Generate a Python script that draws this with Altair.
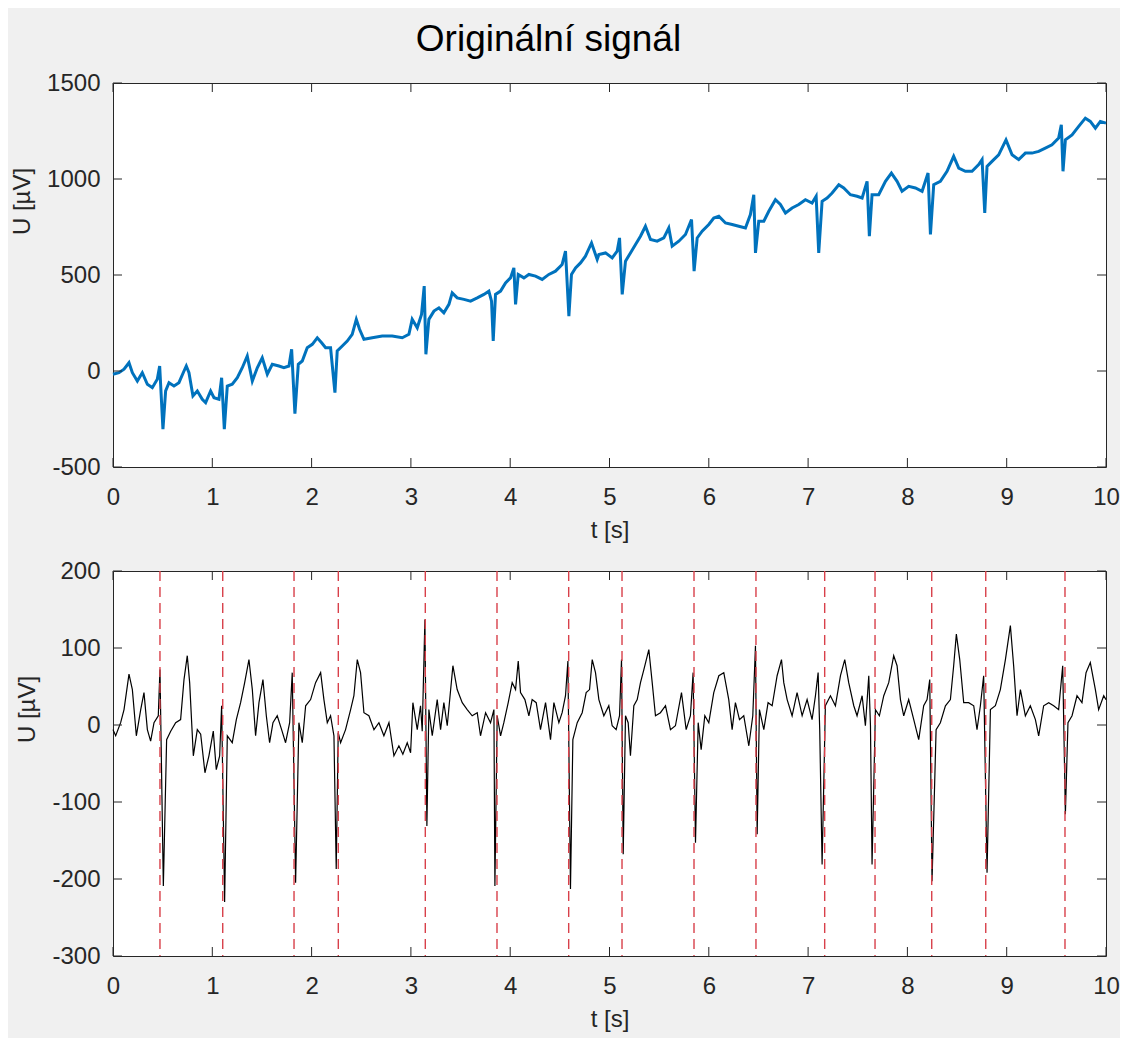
import altair as alt
import pandas as pd

# ---------------- data ----------------
# top panel: original signal (time [s], voltage [uV])
top_t = [0.000, 0.060, 0.111, 0.161, 0.195, 0.245, 0.295, 0.346, 0.396, 0.446,
         0.470, 0.503, 0.530, 0.564, 0.614, 0.664, 0.715, 0.738, 0.765, 0.805,
         0.849, 0.899, 0.933, 0.983, 1.017, 1.067, 1.094, 1.121, 1.151, 1.201,
         1.252, 1.302, 1.352, 1.403, 1.453, 1.503, 1.554, 1.604, 1.671, 1.721,
         1.772, 1.799, 1.832, 1.866, 1.906, 1.956, 2.007, 2.057, 2.101, 2.141,
         2.191, 2.235, 2.258, 2.309, 2.359, 2.409, 2.450, 2.483, 2.527, 2.611,
         2.711, 2.812, 2.913, 2.980, 3.013, 3.064, 3.107, 3.134, 3.151, 3.181,
         3.232, 3.282, 3.332, 3.383, 3.416, 3.466, 3.534, 3.601, 3.668, 3.735,
         3.785, 3.812, 3.829, 3.852, 3.903, 3.953, 4.003, 4.037, 4.054, 4.081,
         4.138, 4.188, 4.255, 4.322, 4.389, 4.456, 4.523, 4.557, 4.591, 4.617,
         4.658, 4.708, 4.758, 4.819, 4.876, 4.893, 4.960, 5.027, 5.077, 5.101,
         5.128, 5.161, 5.211, 5.262, 5.312, 5.362, 5.413, 5.480, 5.547, 5.597,
         5.631, 5.698, 5.765, 5.826, 5.852, 5.883, 5.933, 6.000, 6.050, 6.101,
         6.168, 6.235, 6.302, 6.369, 6.419, 6.453, 6.470, 6.503, 6.554, 6.604,
         6.671, 6.721, 6.772, 6.839, 6.906, 6.973, 7.040, 7.081, 7.107, 7.141,
         7.191, 7.242, 7.309, 7.359, 7.426, 7.493, 7.544, 7.594, 7.617, 7.644,
         7.711, 7.779, 7.839, 7.896, 7.946, 8.013, 8.081, 8.148, 8.208, 8.232,
         8.265, 8.332, 8.399, 8.466, 8.517, 8.584, 8.651, 8.718, 8.752, 8.779,
         8.802, 8.852, 8.919, 8.993, 9.054, 9.121, 9.188, 9.255, 9.322, 9.389,
         9.456, 9.523, 9.550, 9.567, 9.591, 9.658, 9.725, 9.792, 9.842, 9.893,
         9.943, 10.000]
top_v = [-17, -9, 9, 43, -9, -52, -9, -69, -87, -43,
         26, -303, -104, -61, -78, -61, 0, 26, -9, -130,
         -104, -147, -165, -104, -139, -147, -35, -303, -78, -69,
         -35, 17, 78, -52, 17, 69, -17, 35, 26, 17,
         26, 113, -222, 35, 52, 121, 139, 173, 147, 121,
         121, -113, 104, 130, 156, 191, 269, 217, 165, 173,
         182, 182, 173, 191, 269, 225, 295, 442, 87, 269,
         312, 329, 303, 347, 407, 381, 373, 364, 381, 399,
         416, 364, 156, 399, 416, 459, 485, 537, 347, 503,
         485, 503, 494, 477, 503, 520, 555, 624, 286, 503,
         537, 563, 598, 667, 581, 607, 615, 589, 624, 693,
         399, 572, 615, 659, 702, 754, 685, 676, 693, 745,
         650, 676, 711, 789, 520, 693, 728, 763, 797, 806,
         771, 763, 754, 745, 815, 918, 615, 780, 780, 832,
         892, 867, 823, 849, 867, 892, 875, 910, 615, 884,
         901, 927, 970, 953, 918, 910, 901, 988, 702, 918,
         918, 988, 1031, 988, 936, 962, 953, 936, 1031, 711,
         970, 988, 1040, 1118, 1057, 1040, 1040, 1075, 1101, 823,
         1066, 1092, 1126, 1204, 1126, 1101, 1135, 1135, 1144, 1161,
         1178, 1213, 1282, 1040, 1204, 1230, 1274, 1317, 1300, 1265,
         1300, 1291]

# bottom panel: filtered signal (time [s], voltage [uV])
bot_t = [0.000, 0.027, 0.077, 0.111, 0.161, 0.195, 0.235, 0.279, 0.312, 0.346,
         0.379, 0.413, 0.456, 0.473, 0.507, 0.540, 0.581, 0.631, 0.681, 0.715,
         0.748, 0.772, 0.809, 0.849, 0.883, 0.926, 0.966, 1.010, 1.040, 1.074,
         1.094, 1.124, 1.151, 1.201, 1.242, 1.285, 1.326, 1.369, 1.403, 1.436,
         1.470, 1.510, 1.544, 1.577, 1.611, 1.654, 1.698, 1.738, 1.779, 1.805,
         1.839, 1.872, 1.906, 1.940, 1.990, 2.040, 2.091, 2.124, 2.158, 2.191,
         2.225, 2.248, 2.268, 2.292, 2.342, 2.393, 2.426, 2.460, 2.493, 2.527,
         2.577, 2.628, 2.678, 2.728, 2.779, 2.829, 2.879, 2.919, 2.963, 2.997,
         3.020, 3.064, 3.097, 3.114, 3.141, 3.161, 3.181, 3.215, 3.265, 3.299,
         3.332, 3.366, 3.423, 3.466, 3.517, 3.567, 3.617, 3.668, 3.701, 3.752,
         3.802, 3.836, 3.846, 3.869, 3.903, 3.936, 3.980, 4.020, 4.054, 4.081,
         4.104, 4.148, 4.188, 4.221, 4.262, 4.305, 4.356, 4.406, 4.440, 4.490,
         4.523, 4.557, 4.581, 4.607, 4.631, 4.675, 4.725, 4.765, 4.799, 4.826,
         4.859, 4.893, 4.943, 4.993, 5.027, 5.067, 5.101, 5.121, 5.138, 5.161,
         5.188, 5.211, 5.245, 5.279, 5.312, 5.346, 5.396, 5.430, 5.463, 5.513,
         5.564, 5.614, 5.664, 5.725, 5.772, 5.815, 5.842, 5.866, 5.893, 5.923,
         5.960, 6.000, 6.050, 6.101, 6.151, 6.201, 6.235, 6.268, 6.309, 6.352,
         6.403, 6.443, 6.470, 6.487, 6.510, 6.554, 6.597, 6.638, 6.688, 6.732,
         6.755, 6.789, 6.839, 6.889, 6.940, 6.990, 7.040, 7.074, 7.101, 7.117,
         7.141, 7.174, 7.225, 7.275, 7.326, 7.369, 7.409, 7.460, 7.493, 7.544,
         7.577, 7.611, 7.628, 7.644, 7.678, 7.718, 7.762, 7.812, 7.862, 7.896,
         7.930, 7.963, 8.013, 8.064, 8.114, 8.164, 8.198, 8.225, 8.248, 8.289,
         8.332, 8.383, 8.433, 8.466, 8.493, 8.527, 8.567, 8.617, 8.668, 8.701,
         8.735, 8.768, 8.802, 8.836, 8.886, 8.936, 8.987, 9.037, 9.070, 9.104,
         9.138, 9.188, 9.238, 9.289, 9.322, 9.372, 9.423, 9.473, 9.523, 9.564,
         9.591, 9.617, 9.658, 9.708, 9.758, 9.799, 9.842, 9.893, 9.926, 9.977,
         10.000]
bot_v = [-6, -14, 3, 20, 66, 46, -14, 20, 42, -6,
         -21, 3, 12, 72, -209, -19, -8, 3, 7, 59,
         90, 55, -40, -6, -12, -62, -40, -8, -58, -40,
         25, -230, -14, -23, 7, 29, 55, 85, 46, -14,
         29, 59, 12, -23, 3, 12, -6, -23, 3, 68,
         -205, 3, -23, 25, 33, 55, 68, 33, 3, 12,
         -14, -187, -10, -23, -6, 20, 38, 85, 68, 16,
         12, -6, 3, -14, 3, -40, -27, -38, -23, -36,
         29, -6, 25, -8, 137, -131, 20, -14, 33, -6,
         29, -1, 77, 46, 29, 20, 12, 16, -14, 16,
         3, 20, -209, 12, -14, 3, 29, 55, 46, 83,
         42, 33, 12, 33, 29, -6, 29, -19, 29, 3,
         16, 38, 83, -213, -19, 3, 16, 42, 46, 85,
         68, 33, 12, 25, -1, -6, 12, 85, -168, 12,
         3, -40, 25, 33, 55, 72, 98, 55, 12, 16,
         25, -6, -1, 42, -6, 12, 68, -153, 3, -32,
         12, 3, 42, 64, 68, 33, -6, 29, 7, 12,
         -27, 12, 103, -142, 20, -6, 29, 25, 64, 85,
         55, 33, 12, 42, 12, 33, 7, 38, 68, -6,
         -181, 25, 38, 25, 64, 85, 55, 25, 12, 38,
         -1, 64, -1, -181, 20, 12, 38, 55, 90, 77,
         33, 12, 33, 7, -19, 25, 33, 59, -203, -6,
         3, 25, 33, 77, 118, 85, 29, 29, 25, -6,
         25, 64, -192, 20, 25, 46, 85, 129, 77, 12,
         46, 12, 25, 7, -14, 25, 29, 25, 20, 77,
         -116, 3, 12, 38, 29, 68, 81, 46, 20, 38,
         33]

# detected R-peak positions (red dashed lines) [s]
rpeak_t = [0.473, 1.105, 1.823, 2.269, 3.145, 3.867, 4.589, 5.126,
           5.851, 6.475, 7.167, 7.674, 8.245, 8.789, 9.587]

x_ticks = [0, 1, 2, 3, 4, 5, 6, 7, 8, 9, 10]
top_y_ticks = [-500, 0, 500, 1000, 1500]
bot_y_ticks = [-300, -200, -100, 0, 100, 200]

title_text = "Originální signál"
x_title = "t [s]"
y_title = "U [µV]"

# ---------------- chart ----------------
W = 993
H = 384
FONT = "Liberation Sans"
AX = "#262626"
TL = 9  # inner tick length

df_top = pd.DataFrame({"t": top_t, "u": top_v})
df_bot = pd.DataFrame({"t": bot_t, "u": bot_v})
df_r = pd.DataFrame({"t": rpeak_t})
df_xt = pd.DataFrame({"t": x_ticks})

xscale = alt.Scale(domain=[0, 10], nice=False, zero=False)


def x_axis():
    return alt.Axis(values=x_ticks, title=x_title, labelExpr="datum.value + ''",
                    ticks=False, domain=False, grid=False, labelPadding=18,
                    titlePadding=9, labelFlush=False)


def y_axis(vals, ty):
    return alt.Axis(values=vals, title=y_title, labelExpr="datum.value + ''",
                    ticks=False, domain=False, grid=False, labelPadding=13,
                    titlePadding=12, labelFlush=False, titleY=ty)


def inner_ticks(yvals, yscale, h):
    dfy = pd.DataFrame({"u": yvals})
    xt_b = alt.Chart(df_xt).mark_rule(color=AX, strokeWidth=1).encode(
        x=alt.X("t:Q", scale=xscale), y=alt.value(h), y2=alt.value(h - TL))
    xt_t = alt.Chart(df_xt).mark_rule(color=AX, strokeWidth=1).encode(
        x=alt.X("t:Q", scale=xscale), y=alt.value(0), y2=alt.value(TL))
    yt_l = alt.Chart(dfy).mark_rule(color=AX, strokeWidth=1).encode(
        y=alt.Y("u:Q", scale=yscale), x=alt.value(0), x2=alt.value(TL))
    yt_r = alt.Chart(dfy).mark_rule(color=AX, strokeWidth=1).encode(
        y=alt.Y("u:Q", scale=yscale), x=alt.value(W - TL), x2=alt.value(W))
    return [xt_b, xt_t, yt_l, yt_r]


ys_top = alt.Scale(domain=[-500, 1500], nice=False, zero=False)
ys_bot = alt.Scale(domain=[-300, 200], nice=False, zero=False)

line_top = alt.Chart(df_top).mark_line(color="#0072BD", strokeWidth=3).encode(
    x=alt.X("t:Q", scale=xscale, axis=x_axis()),
    y=alt.Y("u:Q", scale=ys_top, axis=y_axis(top_y_ticks, 118)),
)

top = alt.layer(line_top, *inner_ticks(top_y_ticks, ys_top, H)).properties(
    width=W, height=H,
    title=alt.TitleParams(title_text, fontSize=37, font=FONT, fontWeight="normal",
                          color="#000000", anchor="middle", offset=12, dx=-61),
)

line_bot = alt.Chart(df_bot).mark_line(color="#000000", strokeWidth=1.2).encode(
    x=alt.X("t:Q", scale=xscale, axis=x_axis()),
    y=alt.Y("u:Q", scale=ys_bot, axis=y_axis(bot_y_ticks, 138)),
)
rules = alt.Chart(df_r).mark_rule(color="#d8404a", strokeWidth=1.4,
                                  strokeDash=[10, 6]).encode(
    x=alt.X("t:Q", scale=xscale))

bottom = alt.layer(line_bot, rules, *inner_ticks(bot_y_ticks, ys_bot, H + 1)).properties(
    width=W, height=H + 1)

chart = alt.vconcat(top, bottom, spacing=15).properties(
    background="#f0f0f0",
    padding={"left": 2, "top": 12, "right": 0, "bottom": 6},
).configure_axis(
    labelFont=FONT, labelFontSize=24, labelColor=AX,
    titleFont=FONT, titleFontSize=24, titleColor=AX, titleFontWeight="normal",
).configure_view(stroke=AX, strokeWidth=1, fill="#ffffff")

chart.save("out.html", embed_options={"renderer": "svg", "actions": False})
